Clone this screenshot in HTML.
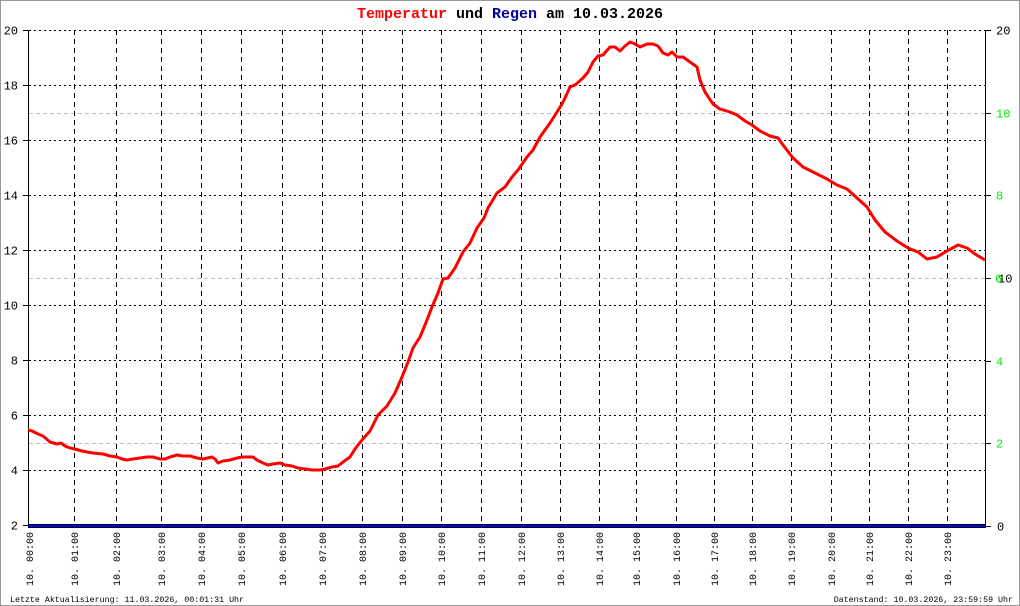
<!DOCTYPE html>
<html>
<head>
<meta charset="utf-8">
<style>
  html,body{margin:0;padding:0;background:#fff;}
  svg{display:block;}
  text{font-family:"Liberation Mono","DejaVu Sans Mono",monospace;}
</style>
</head>
<body>
<svg width="1020" height="606" viewBox="0 0 1020 606" xmlns="http://www.w3.org/2000/svg">
  <rect x="0" y="0" width="1020" height="606" fill="#fff"/>
  <rect x="0.5" y="0.5" width="1019" height="605" fill="none" stroke="#999" stroke-width="1"/>

  <!-- Title -->
  <text x="510" y="18" text-anchor="middle" font-size="15" font-weight="bold"><tspan fill="#ff0000">Temperatur</tspan><tspan fill="#000"> und </tspan><tspan fill="#000099">Regen</tspan><tspan fill="#000"> am 10.03.2026</tspan></text>

  <!-- gray dashed grid lines (right axis) -->
  <g stroke="#c0c0c0" stroke-width="1" stroke-dasharray="4 3">
    <line x1="29" y1="113.5" x2="985" y2="113.5"/>
    <line x1="29" y1="278.5" x2="985" y2="278.5"/>
    <line x1="29" y1="443.5" x2="985" y2="443.5"/>
  </g>

  <!-- horizontal dotted grid -->
  <g stroke="#000" stroke-width="1" stroke-dasharray="2 3">
    <line x1="29" y1="30.5" x2="985" y2="30.5"/>
    <line x1="29" y1="85.5" x2="985" y2="85.5"/>
    <line x1="29" y1="140.5" x2="985" y2="140.5"/>
    <line x1="29" y1="195.5" x2="985" y2="195.5"/>
    <line x1="29" y1="250.5" x2="985" y2="250.5"/>
    <line x1="29" y1="305.5" x2="985" y2="305.5"/>
    <line x1="29" y1="360.5" x2="985" y2="360.5"/>
    <line x1="29" y1="415.5" x2="985" y2="415.5"/>
    <line x1="29" y1="470.5" x2="985" y2="470.5"/>
  </g>

  <!-- vertical dashed grid -->
  <g stroke="#000" stroke-width="1" stroke-dasharray="5 4">
    <line x1="74.5" y1="30" x2="74.5" y2="525"/>
    <line x1="116.5" y1="30" x2="116.5" y2="525"/>
    <line x1="161.5" y1="30" x2="161.5" y2="525"/>
    <line x1="201.5" y1="30" x2="201.5" y2="525"/>
    <line x1="241.5" y1="30" x2="241.5" y2="525"/>
    <line x1="282.5" y1="30" x2="282.5" y2="525"/>
    <line x1="322.5" y1="30" x2="322.5" y2="525"/>
    <line x1="362.5" y1="30" x2="362.5" y2="525"/>
    <line x1="402.5" y1="30" x2="402.5" y2="525"/>
    <line x1="441.5" y1="30" x2="441.5" y2="525"/>
    <line x1="481.5" y1="30" x2="481.5" y2="525"/>
    <line x1="521.5" y1="30" x2="521.5" y2="525"/>
    <line x1="560.5" y1="30" x2="560.5" y2="525"/>
    <line x1="599.5" y1="30" x2="599.5" y2="525"/>
    <line x1="636.5" y1="30" x2="636.5" y2="525"/>
    <line x1="676.5" y1="30" x2="676.5" y2="525"/>
    <line x1="714.5" y1="30" x2="714.5" y2="525"/>
    <line x1="752.5" y1="30" x2="752.5" y2="525"/>
    <line x1="791.5" y1="30" x2="791.5" y2="525"/>
    <line x1="831.5" y1="30" x2="831.5" y2="525"/>
    <line x1="869.5" y1="30" x2="869.5" y2="525"/>
    <line x1="908.5" y1="30" x2="908.5" y2="525"/>
    <line x1="947.5" y1="30" x2="947.5" y2="525"/>
  </g>

  <!-- axes -->
  <g stroke="#000" stroke-width="1">
    <line x1="28.5" y1="30" x2="28.5" y2="527"/>
    <line x1="985.5" y1="30" x2="985.5" y2="527"/>
    <!-- left ticks -->
    <line x1="23" y1="30.5" x2="29" y2="30.5"/>
    <line x1="23" y1="85.5" x2="29" y2="85.5"/>
    <line x1="23" y1="140.5" x2="29" y2="140.5"/>
    <line x1="23" y1="195.5" x2="29" y2="195.5"/>
    <line x1="23" y1="250.5" x2="29" y2="250.5"/>
    <line x1="23" y1="305.5" x2="29" y2="305.5"/>
    <line x1="23" y1="360.5" x2="29" y2="360.5"/>
    <line x1="23" y1="415.5" x2="29" y2="415.5"/>
    <line x1="23" y1="470.5" x2="29" y2="470.5"/>
    <line x1="23" y1="525.5" x2="29" y2="525.5"/>
    <!-- right ticks -->
    <line x1="985" y1="30.5" x2="991" y2="30.5"/>
    <line x1="985" y1="113.5" x2="991" y2="113.5"/>
    <line x1="985" y1="195.5" x2="991" y2="195.5"/>
    <line x1="985" y1="278.5" x2="991" y2="278.5"/>
    <line x1="985" y1="361.5" x2="991" y2="361.5"/>
    <line x1="985" y1="443.5" x2="991" y2="443.5"/>
    <line x1="985" y1="526.5" x2="991" y2="526.5"/>
  </g>

  <!-- temperature curve -->
  <polyline fill="none" stroke="#ff0000" stroke-width="3" stroke-linejoin="round" points="28,430 32,431 38,434 43,436 50,442 57,444 61,443 65,446 70,448 75,449 82,451 87,452 93,453 103,454 110,456 117,457 122,459 127,460 133,459 140,458 147,457 153,457 160,459 165,459 170,457 177,455 183,456 190,456 197,458 203,459 212,457 215,459 218,463 223,461 230,460 237,458 242,457 253,457 257,460 263,463 268,465 273,464 280,463 285,465 292,466 298,468 305,469 312,470 320,470 325,469 332,467 338,466 343,462 350,457 355,449 362,440 370,431 378,415 387,406 395,393 402,377 408,362 413,348 420,337 427,320 432,307 438,293 443,279 448,278 455,268 463,252 470,243 477,228 484,218 488,208 497,193 505,187 512,177 518,170 527,157 533,150 540,137 550,123 557,112 562,104 565,98 570,87 575,85 583,78 588,72 593,62 598,56 603,55 610,47 615,47 620,51 625,46 630,42 635,44 640,47 647,44 653,44 658,46 663,53 668,55 672,52 677,57 683,57 690,62 697,67 700,80 705,92 713,104 720,109 730,112 737,115 745,121 752,125 760,131 770,136 778,138 783,145 793,158 803,167 817,174 827,179 837,185 847,189 857,198 867,207 875,220 885,232 897,241 908,248 918,252 927,259 937,257 947,251 958,245 967,248 975,254 985,260"/>

  <!-- bottom axis with rain line -->
  <rect x="28" y="524" width="958" height="4" fill="#000"/>
  <rect x="28" y="525" width="958" height="2" fill="#0000ee"/>

  <!-- left labels -->
  <g font-size="12" fill="#000" text-anchor="end">
    <text x="18" y="34.5">20</text>
    <text x="18" y="89.5">18</text>
    <text x="18" y="144.5">16</text>
    <text x="18" y="199.5">14</text>
    <text x="18" y="254.5">12</text>
    <text x="18" y="309.5">10</text>
    <text x="18" y="364.5">8</text>
    <text x="18" y="419.5">6</text>
    <text x="18" y="474.5">4</text>
    <text x="18" y="529.5">2</text>
  </g>

  <!-- right labels -->
  <g font-size="12">
    <text x="996" y="34.5" fill="#000">20</text>
    <text x="996" y="117.5" fill="#00ee00">10</text>
    <text x="996" y="199.5" fill="#00ee00">8</text>
    <text x="998" y="282.5" fill="#000">10</text>
    <text x="995" y="282.5" fill="#00ee00">6</text>
    <text x="996" y="365.5" fill="#00ee00">4</text>
    <text x="996" y="447.5" fill="#00ee00">2</text>
    <text x="997" y="530.5" fill="#000">0</text>
  </g>

  <!-- x labels -->
  <g font-size="10" fill="#000" text-anchor="end">
    <text transform="translate(33,532) rotate(-90)">10. 00:00</text>
    <text transform="translate(78,532) rotate(-90)">10. 01:00</text>
    <text transform="translate(120,532) rotate(-90)">10. 02:00</text>
    <text transform="translate(165,532) rotate(-90)">10. 03:00</text>
    <text transform="translate(205,532) rotate(-90)">10. 04:00</text>
    <text transform="translate(245,532) rotate(-90)">10. 05:00</text>
    <text transform="translate(286,532) rotate(-90)">10. 06:00</text>
    <text transform="translate(326,532) rotate(-90)">10. 07:00</text>
    <text transform="translate(366,532) rotate(-90)">10. 08:00</text>
    <text transform="translate(406,532) rotate(-90)">10. 09:00</text>
    <text transform="translate(445,532) rotate(-90)">10. 10:00</text>
    <text transform="translate(485,532) rotate(-90)">10. 11:00</text>
    <text transform="translate(525,532) rotate(-90)">10. 12:00</text>
    <text transform="translate(564,532) rotate(-90)">10. 13:00</text>
    <text transform="translate(603,532) rotate(-90)">10. 14:00</text>
    <text transform="translate(640,532) rotate(-90)">10. 15:00</text>
    <text transform="translate(680,532) rotate(-90)">10. 16:00</text>
    <text transform="translate(718,532) rotate(-90)">10. 17:00</text>
    <text transform="translate(756,532) rotate(-90)">10. 18:00</text>
    <text transform="translate(795,532) rotate(-90)">10. 19:00</text>
    <text transform="translate(835,532) rotate(-90)">10. 20:00</text>
    <text transform="translate(873,532) rotate(-90)">10. 21:00</text>
    <text transform="translate(912,532) rotate(-90)">10. 22:00</text>
    <text transform="translate(951,532) rotate(-90)">10. 23:00</text>
  </g>

  <!-- footer -->
  <text x="10" y="602" font-size="8.3" fill="#000">Letzte Aktualisierung: 11.03.2026, 00:01:31 Uhr</text>
  <text x="1013" y="602" font-size="8.3" fill="#000" text-anchor="end">Datenstand: 10.03.2026, 23:59:59 Uhr</text>
</svg>
</body>
</html>
